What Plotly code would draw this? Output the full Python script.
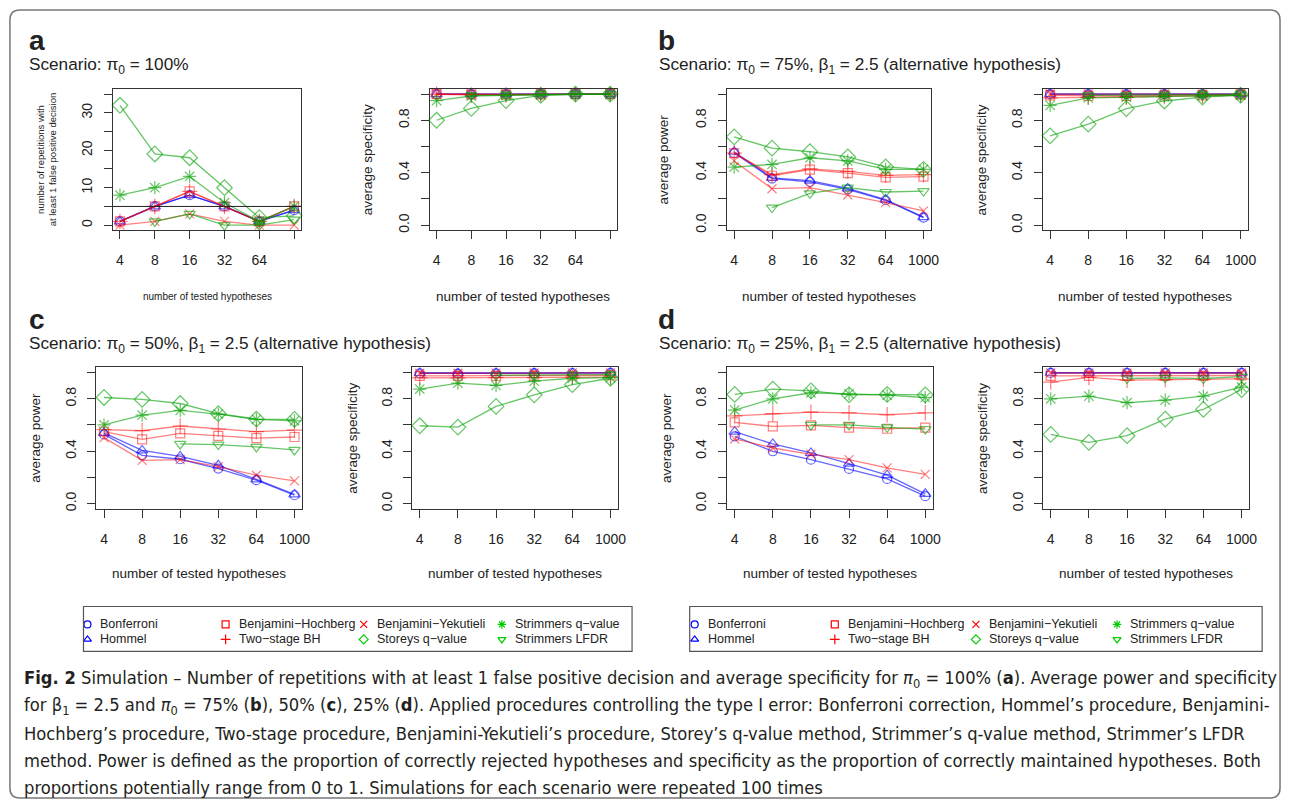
import plotly.graph_objects as go

W, H = 1292, 805
FONT = "Liberation Sans, Arial, Helvetica, sans-serif"
CAP_FONT = "DejaVu Sans Condensed, Liberation Sans Narrow, sans-serif"
INK = "#222222"

# ---------------- data ----------------
X_POS = [1, 2, 3, 4, 5, 6]
X_LABELS = ["4", "8", "16", "32", "64", "1000"]

METHODS = ["Bonferroni", "Hommel", "Benjamini\u2212Hochberg", "Benjamini\u2212Yekutieli",
           "Two\u2212stage BH", "Storeys q\u2212value", "Strimmers q\u2212value", "Strimmers LFDR"]

# a: number of repetitions with >=1 false positive (pi0 = 100%)
A_COUNT_BONF = [1, 5, 8, 5, 1, 4]
A_COUNT_HOMMEL = [1, 5, 8, 5, 1, 4]
A_COUNT_BH = [1, 5, 9, 5, 1, 5]
A_COUNT_BY = [0, 1, 3, 1, 0, 0]
A_COUNT_TSBH = [1, 5, 9, 5, 1, 5]
A_COUNT_STOREY = [32, 19, 18, 10, 2, 2.5]
A_COUNT_STRIMQ = [8, 10, 13, 6, 1, 5]
A_COUNT_LFDR = [None, 1, 3, 0, 0, 1.5]
A_COUNT_REF = 5

# a: average specificity
A_SPEC_BONF = [1.0, 1.0, 1.0, 1.0, 1.0, 1.0]
A_SPEC_HOMMEL = [1.0, 1.0, 1.0, 1.0, 1.0, 1.0]
A_SPEC_BH = [0.999, 0.995, 0.996, 0.998, 0.999, 1.0]
A_SPEC_BY = [1.0, 1.0, 1.0, 1.0, 1.0, 1.0]
A_SPEC_TSBH = [0.998, 0.993, 0.994, 0.997, 0.999, 1.0]
A_SPEC_STOREY = [0.80, 0.89, 0.95, 0.99, 1.0, 1.0]
A_SPEC_STRIMQ = [0.95, 0.985, 0.99, 0.995, 1.0, 1.0]
A_SPEC_LFDR = [None, 0.99, 0.995, 1.0, 1.0, 1.0]

# b: pi0 = 75%
B_POWER_BONF = [0.55, 0.355, 0.33, 0.273, 0.19, 0.058]
B_POWER_HOMMEL = [0.56, 0.36, 0.34, 0.28, 0.195, 0.062]
B_POWER_BH = [0.55, 0.377, 0.423, 0.397, 0.365, 0.37]
B_POWER_BY = [0.49, 0.278, 0.286, 0.23, 0.172, 0.109]
B_POWER_TSBH = [0.55, 0.385, 0.43, 0.41, 0.38, 0.385]
B_POWER_STOREY = [0.673, 0.587, 0.56, 0.52, 0.445, 0.425]
B_POWER_STRIMQ = [0.443, 0.463, 0.514, 0.49, 0.425, 0.425]
B_POWER_LFDR = [None, 0.134, 0.243, 0.286, 0.253, 0.26]

B_SPEC_BONF = [1.0, 1.0, 1.0, 1.0, 1.0, 1.0]
B_SPEC_HOMMEL = [1.0, 1.0, 1.0, 1.0, 1.0, 1.0]
B_SPEC_BH = [0.99, 0.985, 0.985, 0.99, 0.99, 0.995]
B_SPEC_BY = [1.0, 1.0, 1.0, 1.0, 1.0, 1.0]
B_SPEC_TSBH = [0.97, 0.975, 0.975, 0.98, 0.985, 0.99]
B_SPEC_STOREY = [0.681, 0.77, 0.889, 0.947, 0.977, 0.992]
B_SPEC_STRIMQ = [0.914, 0.97, 0.975, 0.982, 0.987, 0.99]
B_SPEC_LFDR = [None, 0.99, 0.99, 0.995, 0.995, 0.997]

# c: pi0 = 50%
C_POWER_BONF = [0.528, 0.368, 0.338, 0.267, 0.178, 0.063]
C_POWER_HOMMEL = [0.54, 0.406, 0.36, 0.292, 0.185, 0.069]
C_POWER_BH = [0.55, 0.49, 0.536, 0.516, 0.5, 0.508]
C_POWER_BY = [0.503, 0.33, 0.335, 0.282, 0.216, 0.173]
C_POWER_TSBH = [0.564, 0.556, 0.592, 0.569, 0.549, 0.561]
C_POWER_STOREY = [0.81, 0.795, 0.764, 0.686, 0.645, 0.643]
C_POWER_STRIMQ = [0.6, 0.675, 0.711, 0.683, 0.643, 0.632]
C_POWER_LFDR = [None, None, 0.455, 0.45, 0.432, 0.409]

C_SPEC_BONF = [0.995, 0.993, 0.995, 0.996, 0.997, 0.998]
C_SPEC_HOMMEL = [0.997, 0.995, 0.997, 0.997, 0.998, 0.999]
C_SPEC_BH = [0.975, 0.975, 0.975, 0.975, 0.978, 0.98]
C_SPEC_BY = [0.995, 0.995, 0.996, 0.997, 0.998, 0.998]
C_SPEC_TSBH = [0.96, 0.96, 0.962, 0.962, 0.965, 0.965]
C_SPEC_STOREY = [0.594, 0.584, 0.742, 0.83, 0.909, 0.957]
C_SPEC_STRIMQ = [0.874, 0.919, 0.902, 0.935, 0.957, 0.962]
C_SPEC_LFDR = [None, None, 0.98, 0.98, 0.985, 0.985]

# d: pi0 = 25%
D_POWER_BONF = [0.513, 0.399, 0.335, 0.264, 0.188, 0.056]
D_POWER_HOMMEL = [0.549, 0.455, 0.386, 0.305, 0.216, 0.074]
D_POWER_BH = [0.62, 0.589, 0.597, 0.579, 0.571, 0.579]
D_POWER_BY = [0.493, 0.424, 0.376, 0.335, 0.272, 0.223]
D_POWER_TSBH = [0.67, 0.686, 0.698, 0.693, 0.678, 0.693]
D_POWER_STOREY = [0.833, 0.874, 0.861, 0.83, 0.833, 0.83]
D_POWER_STRIMQ = [0.714, 0.8, 0.846, 0.838, 0.828, 0.81]
D_POWER_LFDR = [None, None, 0.6, 0.6, 0.582, 0.569]

D_SPEC_BONF = [0.998, 0.998, 0.998, 0.998, 0.998, 0.998]
D_SPEC_HOMMEL = [0.999, 0.999, 0.999, 0.999, 0.999, 0.999]
D_SPEC_BH = [0.975, 0.975, 0.975, 0.975, 0.975, 0.978]
D_SPEC_BY = [0.997, 0.997, 0.997, 0.997, 0.997, 0.997]
D_SPEC_TSBH = [0.927, 0.963, 0.942, 0.947, 0.947, 0.952]
D_SPEC_STOREY = [0.528, 0.467, 0.518, 0.645, 0.719, 0.871]
D_SPEC_STRIMQ = [0.8, 0.82, 0.77, 0.79, 0.82, 0.889]
D_SPEC_LFDR = [None, None, 0.955, 0.96, 0.955, 0.97]

PANEL_SERIES = [
    [A_COUNT_BONF, A_COUNT_HOMMEL, A_COUNT_BH, A_COUNT_BY, A_COUNT_TSBH, A_COUNT_STOREY, A_COUNT_STRIMQ, A_COUNT_LFDR],
    [A_SPEC_BONF, A_SPEC_HOMMEL, A_SPEC_BH, A_SPEC_BY, A_SPEC_TSBH, A_SPEC_STOREY, A_SPEC_STRIMQ, A_SPEC_LFDR],
    [B_POWER_BONF, B_POWER_HOMMEL, B_POWER_BH, B_POWER_BY, B_POWER_TSBH, B_POWER_STOREY, B_POWER_STRIMQ, B_POWER_LFDR],
    [B_SPEC_BONF, B_SPEC_HOMMEL, B_SPEC_BH, B_SPEC_BY, B_SPEC_TSBH, B_SPEC_STOREY, B_SPEC_STRIMQ, B_SPEC_LFDR],
    [C_POWER_BONF, C_POWER_HOMMEL, C_POWER_BH, C_POWER_BY, C_POWER_TSBH, C_POWER_STOREY, C_POWER_STRIMQ, C_POWER_LFDR],
    [C_SPEC_BONF, C_SPEC_HOMMEL, C_SPEC_BH, C_SPEC_BY, C_SPEC_TSBH, C_SPEC_STOREY, C_SPEC_STRIMQ, C_SPEC_LFDR],
    [D_POWER_BONF, D_POWER_HOMMEL, D_POWER_BH, D_POWER_BY, D_POWER_TSBH, D_POWER_STOREY, D_POWER_STRIMQ, D_POWER_LFDR],
    [D_SPEC_BONF, D_SPEC_HOMMEL, D_SPEC_BH, D_SPEC_BY, D_SPEC_TSBH, D_SPEC_STOREY, D_SPEC_STRIMQ, D_SPEC_LFDR],
]

# labelled ticks and unlabelled (minor) ticks
PROP_TICKS = [0, 0.4, 0.8]
PROP_TICKTEXT = ["0.0", "0.4", "0.8"]
PROP_MINOR = [0.2, 0.6, 1.0]
COUNT_TICKS = [0, 10, 20, 30]
COUNT_TICKTEXT = ["0", "10", "20", "30"]
COUNT_MINOR = [5, 15, 25, 35]

# ---------------- styles ----------------
BLUE_L, RED_L, GREEN_L = "rgba(0,0,255,0.6)", "rgba(255,0,0,0.5)", "rgba(0,160,0,0.6)"
BLUE, RED, GREEN = "#0000ff", "#ff0000", "#00cc00"
LINE_COLS = [BLUE_L, BLUE_L, RED_L, RED_L, RED_L, GREEN_L, GREEN_L, GREEN_L]
LEG_COLS = [BLUE, BLUE, RED, RED, RED, GREEN, GREEN, GREEN]
SYMBOLS = ["circle-open", "triangle-up-open", "square-open", "x-thin-open",
           "cross-thin-open", "diamond-open", "asterisk-open", "triangle-down-open"]
SIZES = [9, 10, 9, 9, 11, 12, 11, 10]

# panel boxes in pixels: x0, x1, y0(top), y1(bottom)
BOXES = [
    (113.7, 303.0, 89, 231), (432.3, 621.0, 89, 231),
    (731.1, 936.9, 89, 231), (1049.0, 1256.0, 89, 231),
    (97.0, 304.0, 368.3, 510), (414.7, 622.0, 368.3, 510),
    (731.6, 938.7, 368.3, 510), (1049.6, 1257.0, 368.3, 510),
]

fig = go.Figure()
layout = dict(width=W, height=H, margin=dict(l=0, r=0, t=0, b=0),
              paper_bgcolor="white", plot_bgcolor="rgba(0,0,0,0)", showlegend=False,
              font=dict(family=FONT, color=INK))

TICK_STYLE = dict(ticks="outside", ticklen=8, tickwidth=1, tickcolor="#333")

for i, (box, series) in enumerate(zip(BOXES, PANEL_SERIES), start=1):
    sfx = "" if i == 1 else str(i)
    x0, x1, y0, y1 = box
    is_count = (i == 1)
    top_row_a = i <= 2   # panel a: last tick is not labelled
    layout["xaxis" + sfx] = dict(
        domain=[x0 / W, x1 / W], anchor="y" + sfx, range=[0.8, 6.2],
        tickmode="array",
        tickvals=X_POS[:5] if top_row_a else X_POS,
        ticktext=X_LABELS[:5] if top_row_a else X_LABELS,
        minor=dict(tickmode="array", tickvals=X_POS[5:] if top_row_a else [], **TICK_STYLE),
        showline=True, mirror=True, linecolor="#333", linewidth=1,
        showgrid=False, zeroline=False, tickfont=dict(size=14, color=INK),
        ticklabelstandoff=9, fixedrange=True, **TICK_STYLE)
    layout["yaxis" + sfx] = dict(
        domain=[1 - y1 / H, 1 - y0 / H], anchor="x" + sfx,
        range=[-1.4, 36.4] if is_count else [-0.04, 1.04],
        tickmode="array", tickvals=COUNT_TICKS if is_count else PROP_TICKS,
        ticktext=COUNT_TICKTEXT if is_count else PROP_TICKTEXT, tickangle=-90,
        minor=dict(tickmode="array", tickvals=COUNT_MINOR if is_count else PROP_MINOR, **TICK_STYLE),
        showline=True, mirror=True, linecolor="#333", linewidth=1,
        showgrid=False, zeroline=False, tickfont=dict(size=14, color=INK),
        ticklabelstandoff=6, fixedrange=True, **TICK_STYLE)
    for m, vals in enumerate(series):
        fig.add_trace(go.Scatter(
            x=X_POS, y=vals, mode="lines+markers", name=METHODS[m],
            xaxis="x" + sfx, yaxis="y" + sfx, cliponaxis=False,
            line=dict(color=LINE_COLS[m], width=1.3),
            marker=dict(symbol=SYMBOLS[m], size=SIZES[m], color=LINE_COLS[m],
                        line=dict(color=LINE_COLS[m], width=1.2)),
            showlegend=False, hoverinfo="skip"))

# full-canvas pixel overlay for legend symbols / text
layout["xaxis9"] = dict(domain=[0, 1], range=[0, W], visible=False, anchor="y9", fixedrange=True)
layout["yaxis9"] = dict(domain=[0, 1], range=[H, 0], visible=False, anchor="x9", fixedrange=True)

shapes = []
annotations = []

# reference line (5 of 100 repetitions)
shapes.append(dict(type="line", xref="x domain", yref="y", x0=0, x1=1, y0=A_COUNT_REF, y1=A_COUNT_REF,
                   line=dict(color="#222", width=1)))

def ann(x, y, text, size, xanchor="left", yanchor="middle", angle=0, font=FONT, color=INK):
    annotations.append(dict(xref="x9", yref="y9", x=x, y=y, text=text, showarrow=False,
                            xanchor=xanchor, yanchor=yanchor, textangle=angle,
                            font=dict(family=font, size=size, color=color)))

# panel letters and titles
LETTERS = [("a", 27, 41), ("b", 660, 41), ("c", 27, 320), ("d", 660, 320)]
for t, x, y in LETTERS:
    ann(x, y, "<b>%s</b>" % t, 28)
TITLES = [
    (27, 66, "Scenario: \u03c0<sub>0</sub> = 100%"),
    (661, 66, "Scenario: \u03c0<sub>0</sub> = 75%, \u03b2<sub>1</sub> = 2.5 (alternative hypothesis)"),
    (27, 345, "Scenario: \u03c0<sub>0</sub> = 50%, \u03b2<sub>1</sub> = 2.5 (alternative hypothesis)"),
    (661, 345, "Scenario: \u03c0<sub>0</sub> = 25%, \u03b2<sub>1</sub> = 2.5 (alternative hypothesis)"),
]
for x, y, t in TITLES:
    ann(x, y, t, 17.2)

# axis titles
XT = "number of tested hypotheses"
for i, (x0, x1, y0, y1) in enumerate(BOXES):
    yc = 297 if y0 < 300 else 575
    ann((x0 + x1) / 2, yc, XT, 10 if i == 0 else 13.5, xanchor="center")
YT = [(47, "number of repetitions with<br>at least 1 false positive decision", 9.5),
      (370, "average specificity", 13.5), (668, "average power", 13.5), (988, "average specificity", 13.5),
      (35, "average power", 13.5), (354, "average specificity", 13.5), (670, "average power", 13.5),
      (988, "average specificity", 13.5)]
for (x, t, s), (x0, x1, y0, y1) in zip(YT, BOXES):
    ann(x, (y0 + y1) / 2, t, s, xanchor="center", angle=-90)

# legends
LEG_ORDER = [[0, 2, 3, 6], [1, 4, 5, 7]]
LEG_ROWS = [626, 641]
LEGENDS = [dict(box=(84, 636, 608, 653), sym=[88, 227, 366, 505], txt=[99, 238, 377, 516]),
           dict(box=(694, 1270, 608, 653), sym=[699, 840, 982, 1124], txt=[710, 851, 993, 1135])]
for lg in LEGENDS:
    bx0, bx1, by0, by1 = lg["box"]
    shapes.append(dict(type="rect", xref="x9", yref="y9", x0=bx0, x1=bx1, y0=by0, y1=by1,
                       line=dict(color="#555", width=1.2)))
    for r, row in enumerate(LEG_ORDER):
        for c, m in enumerate(row):
            fig.add_trace(go.Scatter(
                x=[lg["sym"][c]], y=[LEG_ROWS[r]], mode="markers", xaxis="x9", yaxis="y9",
                marker=dict(symbol=SYMBOLS[m], size=7, color=LEG_COLS[m],
                            line=dict(color=LEG_COLS[m], width=1.2)),
                showlegend=False, hoverinfo="skip", cliponaxis=False))
            ann(lg["txt"][c], LEG_ROWS[r], METHODS[m], 12.5)

# caption
CAPTION = [
    "<b>Fig. 2</b> Simulation \u2013 Number of repetitions with at least 1 false positive decision and average specificity for <i>\u03c0</i><sub>0</sub> = 100% (<b>a</b>). Average power and specificity",
    "for \u03b2<sub>1</sub> = 2.5 and <i>\u03c0</i><sub>0</sub> = 75% (<b>b</b>), 50% (<b>c</b>), 25% (<b>d</b>). Applied procedures controlling the type I error: Bonferroni correction, Hommel\u2019s procedure, Benjamini-",
    "Hochberg\u2019s procedure, Two-stage procedure, Benjamini-Yekutieli\u2019s procedure, Storey\u2019s q-value method, Strimmer\u2019s q-value method, Strimmer\u2019s LFDR",
    "method. Power is defined as the proportion of correctly rejected hypotheses and specificity as the proportion of correctly maintained hypotheses. Both",
    "proportions potentially range from 0 to 1. Simulations for each scenario were repeated 100 times",
]
CAP_Y = [681, 708, 735, 762, 789]
for y, t in zip(CAP_Y, CAPTION):
    ann(22, y, t, 18.2, font=CAP_FONT, color="#231f20")

# outer rounded frame
shapes.append(dict(type="path", xref="x9", yref="y9",
                   path="M 20,10 L 1278,10 Q 1288,10 1288,20 L 1288,790 Q 1288,800 1278,800 "
                        "L 20,800 Q 10,800 10,790 L 10,20 Q 10,10 20,10 Z",
                   line=dict(color="#777", width=1.5)))

layout["shapes"] = shapes
layout["annotations"] = annotations
fig.update_layout(**layout)
fig.write_html("out.html", config={"displayModeBar": False},
               post_script="document.body.style.margin='0';")
